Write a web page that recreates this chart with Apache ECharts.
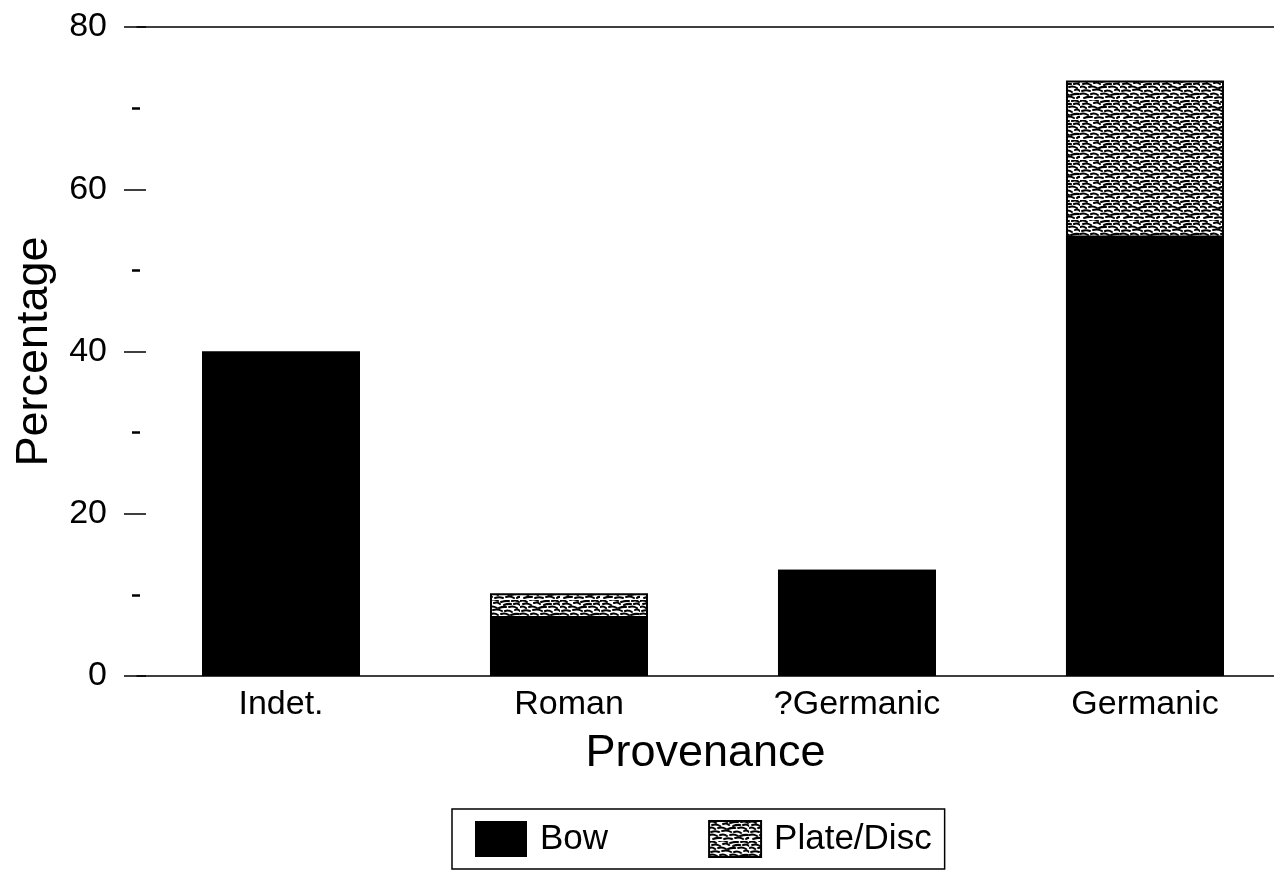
<!DOCTYPE html>
<html>
<head>
<meta charset="utf-8">
<script src="https://cdn.jsdelivr.net/npm/echarts@6/dist/echarts.min.js"></script>
<style>
html,body{margin:0;padding:0;background:#fff;}
#chart{width:1274px;height:872px;}
</style>
</head>
<body>
<div id="chart"></div>
<script>
const categories = ['Indet.', 'Roman', '?Germanic', 'Germanic'];
const bowValues = [40, 7.4, 13.1, 54.3];
const plateValues = [0, 2.8, 0, 19.1];
const seriesNames = ['Bow', 'Plate/Disc'];
const yTicks = [0, 20, 40, 60, 80];

function makePattern() {
  const c = document.createElement('canvas');
  c.width = 40; c.height = 20;
  const g = c.getContext('2d');
  g.fillStyle = '#fff';
  g.fillRect(0, 0, 40, 20);
  g.strokeStyle = '#000';
  g.lineWidth = 2;
  g.lineCap = 'round';
  const strokes = [
    [0,1,7,2],[10,0,18,1],[21,2,29,1],[32,1,39,2],
    [3,4,11,5],[14,3,20,4],[24,5,31,4],[34,4,40,5],
    [0,7,6,8],[9,7,17,8],[19,8,26,7],[29,7,37,8],
    [2,11,10,11],[13,10,22,11],[25,11,32,12],[35,10,40,11],
    [0,14,8,15],[11,14,18,15],[21,14,29,15],[31,15,39,14],
    [4,18,12,17],[15,18,23,18],[26,17,34,18],[37,18,40,17]
  ];
  strokes.forEach(s => { g.beginPath(); g.moveTo(s[0], s[1]); g.quadraticCurveTo((s[0]+s[2])/2, s[1]-1.5, s[2], s[3]); g.stroke(); });
  return c;
}

const catIndex = categories.map((_, i) => i);
const bowData = bowValues.map((v, i) => [i, v]);
// stack top of the Plate/Disc segment (drawn behind the Bow segment)
const plateTopData = plateValues.map((v, i) => [i, bowValues[i] + v]);

const chart = echarts.init(document.getElementById('chart'), null, {renderer: 'canvas'});
const FONT = '"Liberation Sans", Arial, sans-serif';
const X_MIN = -0.5, X_MAX = 3.448;
const option = {
  backgroundColor: '#fff',
  animation: false,
  grid: {left: 137, right: 0, top: 27, bottom: 196},
  legend: {
    data: [{name: seriesNames[0], icon: 'rect'}, {name: seriesNames[1], icon: 'rect'}],
    left: 452, top: 809,
    itemWidth: 52, itemHeight: 36, itemGap: 100,
    padding: [11, 13, 11, 23],
    borderColor: '#000', borderWidth: 1.5,
    textStyle: {fontFamily: FONT, fontSize: 35, color: '#000', padding: [0, 0, 0, 8]}
  },
  xAxis: [{
    type: 'value', min: X_MIN, max: X_MAX,
    axisLine: {show: true, onZero: false, lineStyle: {color: '#000', width: 1.5}},
    axisTick: {show: false},
    splitLine: {show: false},
    axisLabel: {customValues: catIndex, formatter: v => categories[Math.round(v)],
      fontFamily: FONT, fontSize: 34, color: '#000', margin: 12},
    name: 'Provenance', nameLocation: 'middle', nameGap: 55,
    nameTextStyle: {fontFamily: FONT, fontSize: 45, color: '#000'}
  }, {
    type: 'value', min: X_MIN, max: X_MAX, position: 'top',
    axisLine: {show: true, onZero: false, lineStyle: {color: '#000', width: 1.5}},
    axisTick: {show: false}, axisLabel: {show: false}, splitLine: {show: false}
  }],
  yAxis: [{
    type: 'value', min: yTicks[0], max: yTicks[yTicks.length - 1], interval: 20, position: 'left',
    axisLine: {show: false, onZero: false},
    axisTick: {show: true, inside: true, length: 9, lineStyle: {color: '#000', width: 1.5}},
    minorTick: {show: true, splitNumber: 2, length: 3, lineStyle: {color: '#000', width: 2.5}},
    splitLine: {show: false},
    axisLabel: {fontFamily: FONT, fontSize: 34, color: '#000', margin: 30},
    name: 'Percentage', nameLocation: 'middle', nameGap: 80,
    nameTextStyle: {fontFamily: FONT, fontSize: 45, color: '#000'}
  }, {
    type: 'value', min: yTicks[0], max: yTicks[yTicks.length - 1], interval: 20, position: 'left',
    axisLine: {show: false, onZero: false},
    axisTick: {show: true, inside: false, length: 13, lineStyle: {color: '#000', width: 1.5}},
    minorTick: {show: true, splitNumber: 2, length: 5, lineStyle: {color: '#000', width: 2.5}},
    splitLine: {show: false},
    axisLabel: {show: false}
  }],
  series: [{
    name: seriesNames[1], type: 'bar', data: plateTopData, barWidth: 158, barGap: '-100%', z: 2,
    itemStyle: {color: {image: makePattern(), repeat: 'repeat'}, borderColor: '#000', borderWidth: 2}
  }, {
    name: seriesNames[0], type: 'bar', data: bowData, barWidth: 158, barGap: '-100%', z: 3,
    itemStyle: {color: '#000'}
  }]
};
chart.setOption(option);
</script>
</body>
</html>
